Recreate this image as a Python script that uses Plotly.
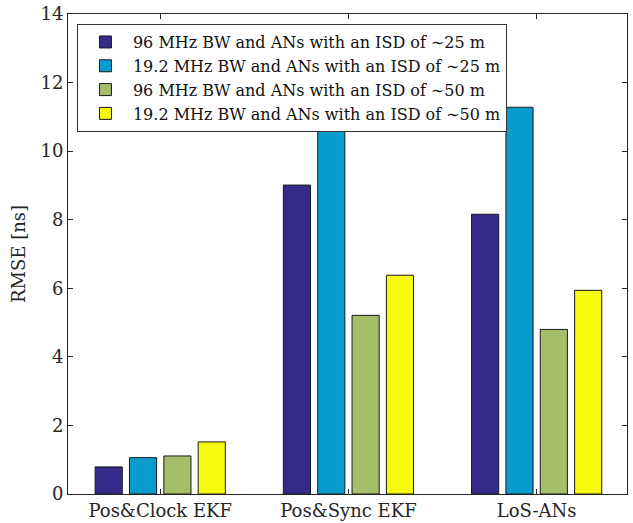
import plotly.graph_objects as go

categories = ["Pos&Clock EKF", "Pos&Sync EKF", "LoS-ANs"]
series_names = [
    "96 MHz BW and ANs with an ISD of \u223c25 m",
    "19.2 MHz BW and ANs with an ISD of \u223c25 m",
    "96 MHz BW and ANs with an ISD of \u223c50 m",
    "19.2 MHz BW and ANs with an ISD of \u223c50 m",
]
bw96_isd25 = [0.79, 9.01, 8.16]
bw19_isd25 = [1.06, 12.3, 11.28]
bw96_isd50 = [1.11, 5.21, 4.80]
bw19_isd50 = [1.52, 6.38, 5.94]
series_values = [bw96_isd25, bw19_isd25, bw96_isd50, bw19_isd50]
colors = ["#352a87", "#089ccf", "#a6be6a", "#f8fa0d"]
y_ticks = [0, 2, 4, 6, 8, 10, 12, 14]

FONT = "DejaVu Serif"
AX = "#262626"

fig = go.Figure()
for name, vals, col in zip(series_names, series_values, colors):
    fig.add_trace(go.Bar(
        x=[1, 2, 3], y=vals, name=name,
        marker=dict(color=col, line=dict(color="#1a1a1a", width=1)),
    ))

fig.update_layout(
    width=633, height=523,
    barmode="group", bargap=0.27, bargroupgap=0.21,
    plot_bgcolor="white", paper_bgcolor="white",
    margin=dict(l=68, r=6, t=14, b=29, pad=0),
    font=dict(family=FONT, size=18, color=AX),
    showlegend=True,
    legend=dict(
        x=0.016, y=0.979, xanchor="left", yanchor="top",
        bgcolor="white", bordercolor="#333333", borderwidth=1,
        font=dict(family=FONT, size=16, color="#111111"),
        tracegroupgap=0, itemwidth=45,
    ),
    xaxis=dict(
        range=[0.51, 3.48], tickvals=[1, 2, 3], ticktext=categories,
        showline=True, linecolor=AX, linewidth=1, mirror="ticks",
        ticks="inside", ticklen=5, tickcolor=AX, showgrid=False,
        zeroline=False, automargin=False,
        tickfont=dict(family=FONT, size=18, color=AX),
    ),
    yaxis=dict(
        range=[0, 14], tickvals=y_ticks,
        showline=True, linecolor=AX, linewidth=1, mirror="ticks",
        ticks="inside", ticklen=5, tickcolor=AX, showgrid=False,
        zeroline=False, automargin=False,
        title=dict(text="RMSE [ns]", font=dict(family=FONT, size=18, color=AX), standoff=10),
        tickfont=dict(family=FONT, size=18, color=AX),
    ),
)

fig.write_html(
    "out.html",
    config={"displayModeBar": False},
    post_script="document.body.style.margin='0';document.body.style.overflow='hidden';",
)
